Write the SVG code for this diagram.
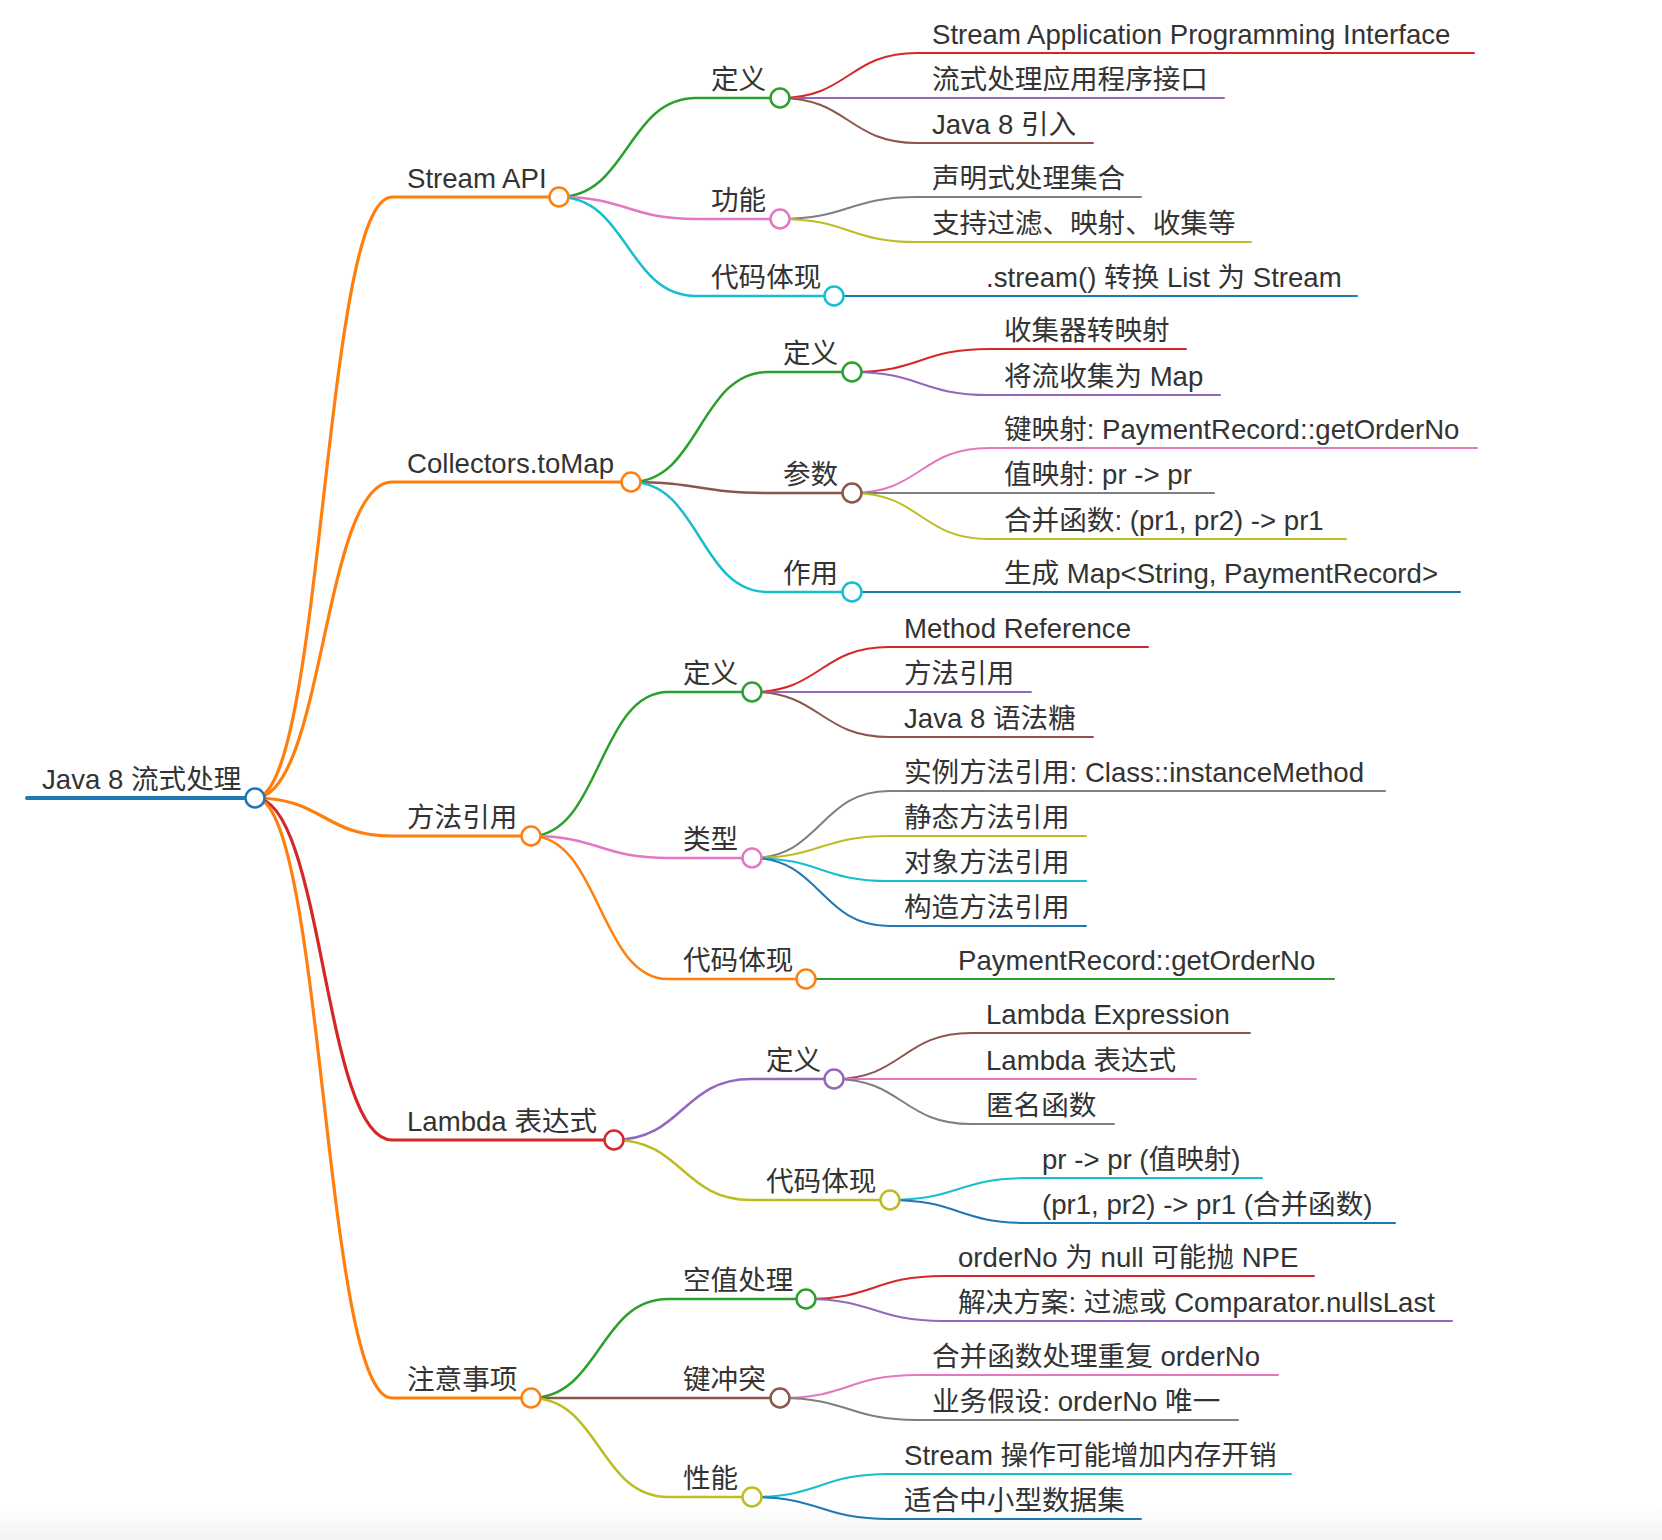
<svg xmlns="http://www.w3.org/2000/svg" width="1662" height="1540" viewBox="0 0 1662 1540">
<defs>
<linearGradient id="bottomFade" x1="0" y1="0" x2="0" y2="1">
<stop offset="0" stop-color="#ffffff"/>
<stop offset="1" stop-color="#f3f3f3"/>
</linearGradient>
</defs>
<style>
text{font-family:"Liberation Sans","Noto Sans CJK SC",sans-serif;font-size:27.6px;fill:#333333}
path{fill:none;stroke-linecap:round}
circle{fill:#ffffff;stroke-width:2.5}
.d0{stroke-width:4}
.d1{stroke-width:3.2}
.d2{stroke-width:2.5}
.d3{stroke-width:2}
.blue{stroke:#1f77b4}.orange{stroke:#ff7f0e}.green{stroke:#2ca02c}.red{stroke:#d62728}.purple{stroke:#9467bd}
.brown{stroke:#8c564b}.pink{stroke:#e377c2}.gray{stroke:#7f7f7f}.olive{stroke:#bcbd22}.cyan{stroke:#17becf}
</style>
<rect x="0" y="0" width="1662" height="1540" fill="#ffffff"/>
<rect x="0" y="1505" width="1662" height="35" fill="url(#bottomFade)"/>
<g id="connectors">
<path class="d0 blue" d="M27,798 H255"/>
<path class="d1 orange" d="M255,798 C323.5,798 323.5,197 392,197 H559"/>
<path class="d1 orange" d="M255,798 C323.5,798 323.5,482 392,482 H631"/>
<path class="d1 orange" d="M255,798 C323.5,798 323.5,836 392,836 H531"/>
<path class="d1 red" d="M255,798 C323.5,798 323.5,1140 392,1140 H614"/>
<path class="d1 orange" d="M255,798 C323.5,798 323.5,1398 392,1398 H531"/>
<path class="d2 green" d="M559,197 C627.5,197 627.5,98 696,98 H780"/>
<path class="d2 pink" d="M559,197 C627.5,197 627.5,219 696,219 H780"/>
<path class="d2 cyan" d="M559,197 C627.5,197 627.5,296 696,296 H834"/>
<path class="d3 red" d="M780,98 C848.5,98 848.5,53 917,53 H1474"/>
<path class="d3 purple" d="M780,98 H1224"/>
<path class="d3 brown" d="M780,98 C848.5,98 848.5,143 917,143 H1093"/>
<path class="d3 gray" d="M780,219 C848.5,219 848.5,197 917,197 H1141"/>
<path class="d3 olive" d="M780,219 C848.5,219 848.5,242 917,242 H1251"/>
<path class="d3 blue" d="M834,296 H1357"/>
<path class="d2 green" d="M631,482 C699.5,482 699.5,372 768,372 H852"/>
<path class="d2 brown" d="M631,482 C699.5,482 699.5,493 768,493 H852"/>
<path class="d2 cyan" d="M631,482 C699.5,482 699.5,592 768,592 H852"/>
<path class="d3 red" d="M852,372 C920.5,372 920.5,349 989,349 H1186"/>
<path class="d3 purple" d="M852,372 C920.5,372 920.5,395 989,395 H1220"/>
<path class="d3 pink" d="M852,493 C920.5,493 920.5,448 989,448 H1477"/>
<path class="d3 gray" d="M852,493 H1214"/>
<path class="d3 olive" d="M852,493 C920.5,493 920.5,539 989,539 H1346"/>
<path class="d3 blue" d="M852,592 H1460"/>
<path class="d2 green" d="M531,836 C599.5,836 599.5,692 668,692 H752"/>
<path class="d2 pink" d="M531,836 C599.5,836 599.5,858 668,858 H752"/>
<path class="d2 orange" d="M531,836 C599.5,836 599.5,979 668,979 H806"/>
<path class="d3 red" d="M752,692 C820.5,692 820.5,647 889,647 H1148"/>
<path class="d3 purple" d="M752,692 H1031"/>
<path class="d3 brown" d="M752,692 C820.5,692 820.5,737 889,737 H1093"/>
<path class="d3 gray" d="M752,858 C820.5,858 820.5,791 889,791 H1385"/>
<path class="d3 olive" d="M752,858 C820.5,858 820.5,836 889,836 H1086"/>
<path class="d3 cyan" d="M752,858 C820.5,858 820.5,881 889,881 H1086"/>
<path class="d3 blue" d="M752,858 C820.5,858 820.5,926 889,926 H1086"/>
<path class="d3 green" d="M806,979 H1334"/>
<path class="d2 purple" d="M614,1140 C682.5,1140 682.5,1079 751,1079 H834"/>
<path class="d2 olive" d="M614,1140 C682.5,1140 682.5,1200 751,1200 H890"/>
<path class="d3 brown" d="M834,1079 C902.5,1079 902.5,1033 971,1033 H1250"/>
<path class="d3 pink" d="M834,1079 H1196"/>
<path class="d3 gray" d="M834,1079 C902.5,1079 902.5,1124 971,1124 H1114"/>
<path class="d3 cyan" d="M890,1200 C958.5,1200 958.5,1178 1027,1178 H1262"/>
<path class="d3 blue" d="M890,1200 C958.5,1200 958.5,1223 1027,1223 H1395"/>
<path class="d2 green" d="M531,1398 C599.5,1398 599.5,1299 668,1299 H806"/>
<path class="d2 brown" d="M531,1398 H780"/>
<path class="d2 olive" d="M531,1398 C599.5,1398 599.5,1497 668,1497 H752"/>
<path class="d3 red" d="M806,1299 C874.5,1299 874.5,1276 943,1276 H1314"/>
<path class="d3 purple" d="M806,1299 C874.5,1299 874.5,1321 943,1321 H1452"/>
<path class="d3 pink" d="M780,1398 C848.5,1398 848.5,1375 917,1375 H1278"/>
<path class="d3 gray" d="M780,1398 C848.5,1398 848.5,1420 917,1420 H1238"/>
<path class="d3 cyan" d="M752,1497 C820.5,1497 820.5,1474 889,1474 H1291"/>
<path class="d3 blue" d="M752,1497 C820.5,1497 820.5,1519 889,1519 H1141"/>
</g>
<g id="nodes">
<g id="root"><text x="42" y="789">Java 8 流式处理</text><circle class="blue" cx="255" cy="798" r="9.5"/></g>

<g id="stream-api"><text x="407" y="188">Stream API</text><circle class="orange" cx="559" cy="197" r="9.5"/></g>
<g id="sa-def"><text x="711" y="89">定义</text><circle class="green" cx="780" cy="98" r="9.5"/></g>
<g id="sa-def-1"><text x="932" y="44">Stream Application Programming Interface</text></g>
<g id="sa-def-2"><text x="932" y="89">流式处理应用程序接口</text></g>
<g id="sa-def-3"><text x="932" y="134">Java 8 引入</text></g>
<g id="sa-func"><text x="711" y="210">功能</text><circle class="pink" cx="780" cy="219" r="9.5"/></g>
<g id="sa-func-1"><text x="932" y="188">声明式处理集合</text></g>
<g id="sa-func-2"><text x="932" y="233">支持过滤、映射、收集等</text></g>
<g id="sa-code"><text x="711" y="287">代码体现</text><circle class="cyan" cx="834" cy="296" r="9.5"/></g>
<g id="sa-code-1"><text x="986" y="287">.stream() 转换 List 为 Stream</text></g>

<g id="tomap"><text x="407" y="473">Collectors.toMap</text><circle class="orange" cx="631" cy="482" r="9.5"/></g>
<g id="tm-def"><text x="783" y="363">定义</text><circle class="green" cx="852" cy="372" r="9.5"/></g>
<g id="tm-def-1"><text x="1004" y="340">收集器转映射</text></g>
<g id="tm-def-2"><text x="1004" y="386">将流收集为 Map</text></g>
<g id="tm-param"><text x="783" y="484">参数</text><circle class="brown" cx="852" cy="493" r="9.5"/></g>
<g id="tm-param-1"><text x="1004" y="439">键映射: PaymentRecord::getOrderNo</text></g>
<g id="tm-param-2"><text x="1004" y="484">值映射: pr -&gt; pr</text></g>
<g id="tm-param-3"><text x="1004" y="530">合并函数: (pr1, pr2) -&gt; pr1</text></g>
<g id="tm-use"><text x="783" y="583">作用</text><circle class="cyan" cx="852" cy="592" r="9.5"/></g>
<g id="tm-use-1"><text x="1004" y="583">生成 Map&lt;String, PaymentRecord&gt;</text></g>

<g id="methodref"><text x="407" y="827">方法引用</text><circle class="orange" cx="531" cy="836" r="9.5"/></g>
<g id="mr-def"><text x="683" y="683">定义</text><circle class="green" cx="752" cy="692" r="9.5"/></g>
<g id="mr-def-1"><text x="904" y="638">Method Reference</text></g>
<g id="mr-def-2"><text x="904" y="683">方法引用</text></g>
<g id="mr-def-3"><text x="904" y="728">Java 8 语法糖</text></g>
<g id="mr-type"><text x="683" y="849">类型</text><circle class="pink" cx="752" cy="858" r="9.5"/></g>
<g id="mr-type-1"><text x="904" y="782">实例方法引用: Class::instanceMethod</text></g>
<g id="mr-type-2"><text x="904" y="827">静态方法引用</text></g>
<g id="mr-type-3"><text x="904" y="872">对象方法引用</text></g>
<g id="mr-type-4"><text x="904" y="917">构造方法引用</text></g>
<g id="mr-code"><text x="683" y="970">代码体现</text><circle class="orange" cx="806" cy="979" r="9.5"/></g>
<g id="mr-code-1"><text x="958" y="970">PaymentRecord::getOrderNo</text></g>

<g id="lambda"><text x="407" y="1131">Lambda 表达式</text><circle class="red" cx="614" cy="1140" r="9.5"/></g>
<g id="la-def"><text x="766" y="1070">定义</text><circle class="purple" cx="834" cy="1079" r="9.5"/></g>
<g id="la-def-1"><text x="986" y="1024">Lambda Expression</text></g>
<g id="la-def-2"><text x="986" y="1070">Lambda 表达式</text></g>
<g id="la-def-3"><text x="986" y="1115">匿名函数</text></g>
<g id="la-code"><text x="766" y="1191">代码体现</text><circle class="olive" cx="890" cy="1200" r="9.5"/></g>
<g id="la-code-1"><text x="1042" y="1169">pr -&gt; pr (值映射)</text></g>
<g id="la-code-2"><text x="1042" y="1214">(pr1, pr2) -&gt; pr1 (合并函数)</text></g>

<g id="notes"><text x="407" y="1389">注意事项</text><circle class="orange" cx="531" cy="1398" r="9.5"/></g>
<g id="nt-null"><text x="683" y="1290">空值处理</text><circle class="green" cx="806" cy="1299" r="9.5"/></g>
<g id="nt-null-1"><text x="958" y="1267">orderNo 为 null 可能抛 NPE</text></g>
<g id="nt-null-2"><text x="958" y="1312">解决方案: 过滤或 Comparator.nullsLast</text></g>
<g id="nt-key"><text x="683" y="1389">键冲突</text><circle class="brown" cx="780" cy="1398" r="9.5"/></g>
<g id="nt-key-1"><text x="932" y="1366">合并函数处理重复 orderNo</text></g>
<g id="nt-key-2"><text x="932" y="1411">业务假设: orderNo 唯一</text></g>
<g id="nt-perf"><text x="683" y="1488">性能</text><circle class="olive" cx="752" cy="1497" r="9.5"/></g>
<g id="nt-perf-1"><text x="904" y="1465">Stream 操作可能增加内存开销</text></g>
<g id="nt-perf-2"><text x="904" y="1510">适合中小型数据集</text></g>
</g>
</svg>
